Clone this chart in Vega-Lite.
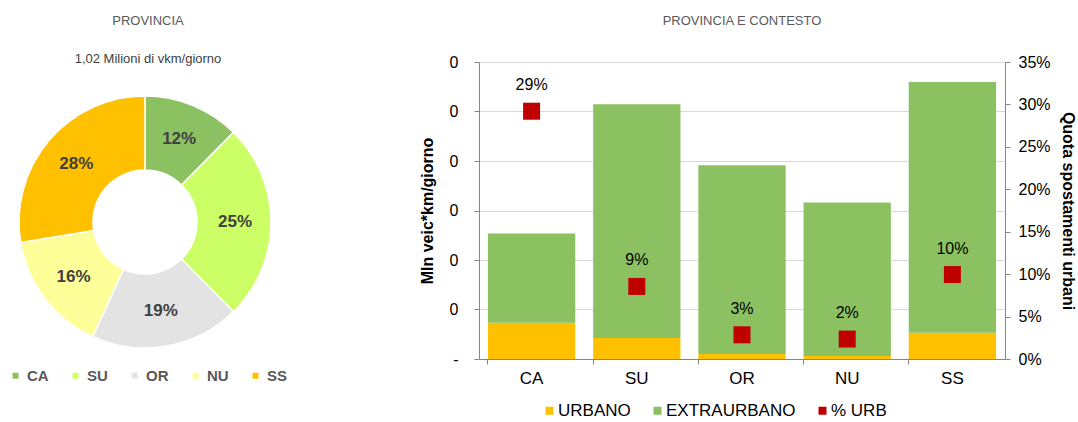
{
  "$schema": "https://vega.github.io/schema/vega-lite/v6.json",
  "padding": {"left": 8, "top": 15, "right": 0, "bottom": 0},
  "config": {"font": "Liberation Sans", "view": {"stroke": null}},
  "datasets": {
    "prov": [
      {"prov": "CA", "k": 1, "share": 0.124},
      {"prov": "SU", "k": 2, "share": 0.252},
      {"prov": "OR", "k": 3, "share": 0.192},
      {"prov": "NU", "k": 4, "share": 0.156},
      {"prov": "SS", "k": 5, "share": 0.276}
    ],
    "bars": [
      {"prov": "CA", "tipo": "URBANO", "k": 1, "val": 0.0365},
      {"prov": "CA", "tipo": "EXTRAURBANO", "k": 2, "val": 0.0902},
      {"prov": "SU", "tipo": "URBANO", "k": 1, "val": 0.0213},
      {"prov": "SU", "tipo": "EXTRAURBANO", "k": 2, "val": 0.2361},
      {"prov": "OR", "tipo": "URBANO", "k": 1, "val": 0.005},
      {"prov": "OR", "tipo": "EXTRAURBANO", "k": 2, "val": 0.1906},
      {"prov": "NU", "tipo": "URBANO", "k": 1, "val": 0.003},
      {"prov": "NU", "tipo": "EXTRAURBANO", "k": 2, "val": 0.155},
      {"prov": "SS", "tipo": "URBANO", "k": 1, "val": 0.0264},
      {"prov": "SS", "tipo": "EXTRAURBANO", "k": 2, "val": 0.2533}
    ],
    "pct": [
      {"prov": "CA", "serie": "% URB", "pct": 0.292},
      {"prov": "SU", "serie": "% URB", "pct": 0.0855},
      {"prov": "OR", "serie": "% URB", "pct": 0.0285},
      {"prov": "NU", "serie": "% URB", "pct": 0.0235},
      {"prov": "SS", "serie": "% URB", "pct": 0.0995}
    ]
  },
  "spacing": 131,
  "resolve": {"scale": {"color": "independent"}, "legend": {"color": "independent"}},
  "hconcat": [
    {
      "width": 270,
      "height": 320,
      "title": {
        "text": "PROVINCIA",
        "subtitle": "1,02  Milioni di vkm/giorno",
        "fontSize": 13,
        "fontWeight": "normal",
        "color": "#595959",
        "subtitleFontSize": 13,
        "subtitleColor": "#404040",
        "subtitlePadding": 25,
        "offset": -4,
        "dx": 3,
        "anchor": "middle"
      },
      "data": {"name": "prov"},
      "encoding": {
        "theta": {"field": "share", "type": "quantitative", "stack": true},
        "order": {"field": "k", "type": "quantitative"}
      },
      "layer": [
        {
          "mark": {"type": "arc", "outerRadius": 126, "innerRadius": 52, "stroke": "white", "strokeWidth": 1.5},
          "encoding": {
            "color": {
              "field": "prov",
              "type": "nominal",
              "sort": ["CA", "SU", "OR", "NU", "SS"],
              "scale": {"domain": ["CA", "SU", "OR", "NU", "SS"], "range": ["#8CC162", "#CCFF66", "#E3E3E3", "#FFFF99", "#FFC000"]},
              "legend": {
                "orient": "bottom-left",
                "direction": "horizontal",
                "title": null,
                "symbolType": "square",
                "symbolSize": 36,
                "symbolStrokeWidth": 0,
                "labelFontSize": 15,
                "labelFontWeight": "bold",
                "labelColor": "#595959",
                "columnPadding": 19,
                "offset": -2
              }
            }
          }
        },
        {
          "mark": {"type": "text", "radius": 90, "fontSize": 17, "fontWeight": "bold", "fill": "#404040"},
          "encoding": {
            "detail": {"field": "prov", "type": "nominal"},
            "text": {"field": "share", "type": "quantitative", "format": ".0%"}
          }
        }
      ]
    },
    {
      "width": 526,
      "height": 297,
      "title": {
        "text": "PROVINCIA E CONTESTO",
        "fontSize": 13,
        "fontWeight": "normal",
        "color": "#595959",
        "offset": 26
      },
      "layer": [
        {
          "data": {"name": "bars"},
          "mark": {"type": "bar"},
          "encoding": {
            "x": {
              "field": "prov",
              "type": "nominal",
              "sort": ["CA", "SU", "OR", "NU", "SS"],
              "scale": {"paddingInner": 0.17, "paddingOuter": 0.085},
              "axis": {
                "title": null,
                "labelAngle": 0,
                "labelFontSize": 17,
                "labelColor": "#000000",
                "domainColor": "#868686",
                "tickColor": "#868686",
                "tickSize": 5,
                "bandPosition": 0,
                "labelPadding": 6
              }
            },
            "y": {
              "field": "val",
              "type": "quantitative",
              "stack": "zero",
              "scale": {"domain": [0, 0.3], "nice": false},
              "axis": {
                "title": "Mln veic*km/giorno",
                "titleFontSize": 16,
                "titleFontWeight": "bold",
                "titleColor": "#000000",
                "titlePadding": 14,
                "values": [0, 0.05, 0.1, 0.15, 0.2, 0.25, 0.3],
                "labelExpr": "datum.value == 0 ? '-' : '0'",
                "labelFontSize": 16,
                "labelColor": "#000000",
                "labelPadding": 16,
                "tickSize": 5,
                "tickColor": "#868686",
                "domainColor": "#868686",
                "grid": true,
                "gridColor": "#D9D9D9"
              }
            },
            "color": {
              "field": "tipo",
              "type": "nominal",
              "scale": {"domain": ["URBANO", "EXTRAURBANO", "% URB"], "range": ["#FFC000", "#8CC162", "#C00000"]},
              "legend": {
                "orient": "none",
                "legendX": 62,
                "legendY": 340,
                "direction": "horizontal",
                "title": null,
                "symbolType": "square",
                "symbolSize": 64,
                "symbolStrokeWidth": 0,
                "labelFontSize": 17,
                "labelColor": "#000000",
                "labelOffset": 0,
                "columnPadding": 18
              }
            },
            "order": {"field": "k", "type": "quantitative"}
          }
        },
        {
          "data": {"name": "pct"},
          "encoding": {
            "x": {"field": "prov", "type": "nominal", "sort": ["CA", "SU", "OR", "NU", "SS"]},
            "y": {
              "field": "pct",
              "type": "quantitative",
              "scale": {"domain": [0, 0.35], "nice": false},
              "axis": {
                "orient": "right",
                "title": "Quota spostamenti urbani",
                "titleFontSize": 16,
                "titleFontWeight": "bold",
                "titleColor": "#000000",
                "titlePadding": 9,
                "format": ".0%",
                "values": [0, 0.05, 0.1, 0.15, 0.2, 0.25, 0.3, 0.35],
                "labelFontSize": 16,
                "labelColor": "#000000",
                "labelPadding": 8,
                "tickSize": 5,
                "tickColor": "#868686",
                "domainColor": "#868686",
                "grid": false
              }
            }
          },
          "layer": [
            {
              "mark": {"type": "square", "size": 289, "opacity": 1},
              "encoding": {"color": {"field": "serie", "type": "nominal"}}
            },
            {
              "mark": {"type": "text", "dy": -26, "fontSize": 16, "fill": "#000000"},
              "encoding": {"text": {"field": "pct", "type": "quantitative", "format": ".0%"}}
            }
          ]
        }
      ],
      "resolve": {"scale": {"y": "independent"}}
    }
  ]
}
